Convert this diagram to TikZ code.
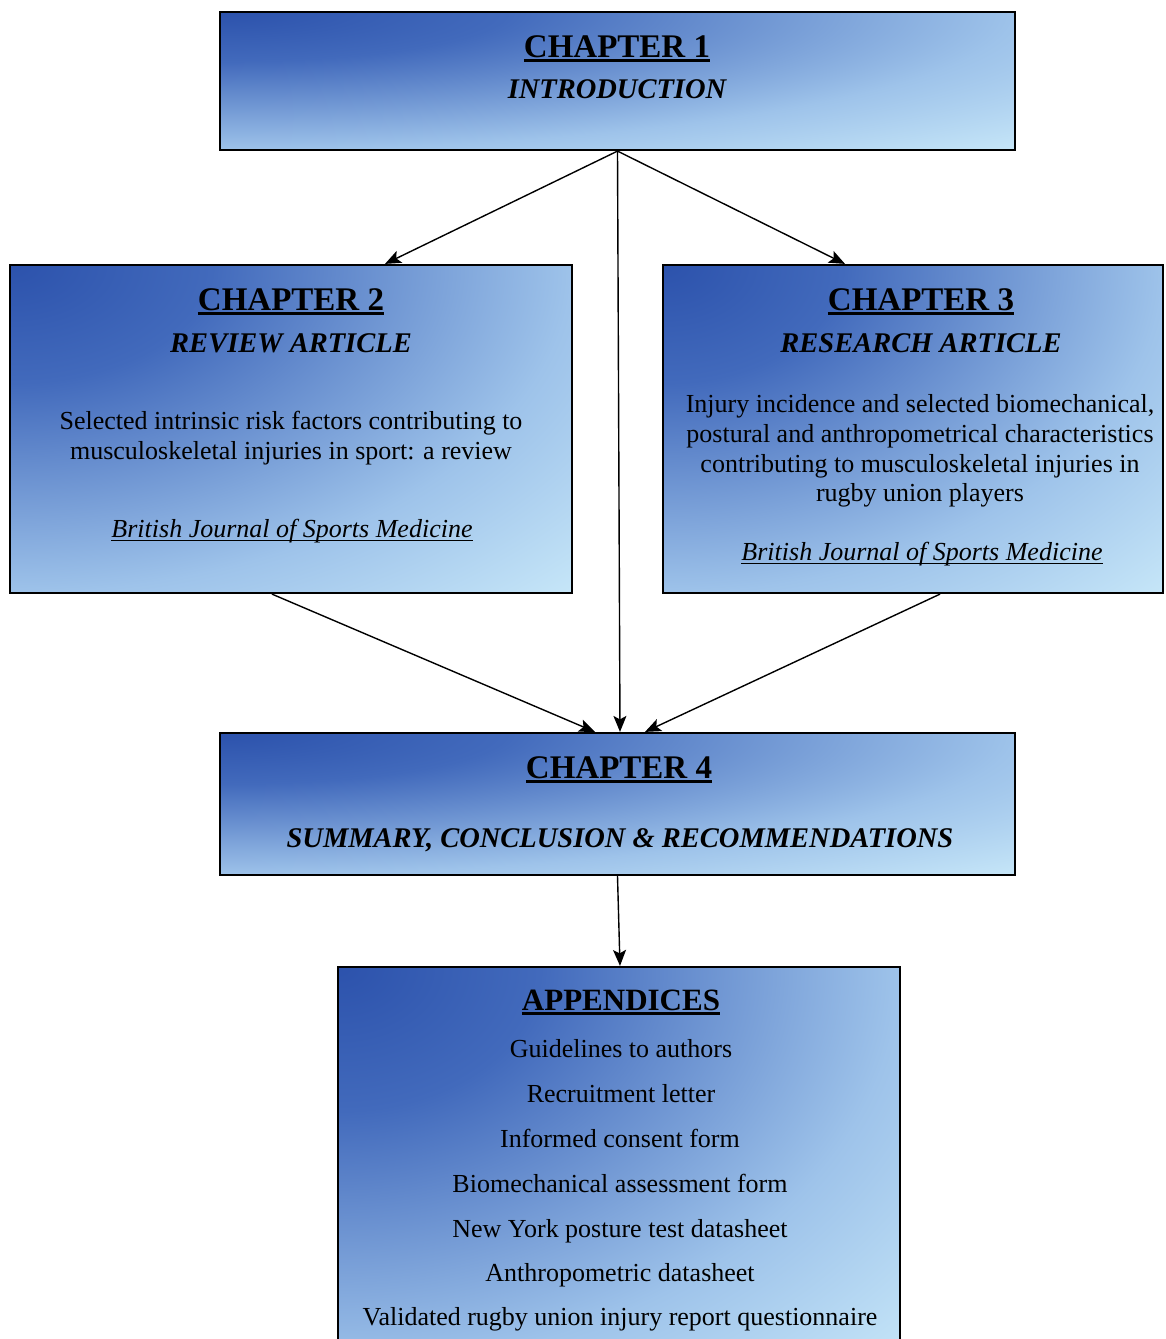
\documentclass[tikz,border=0pt]{standalone}
\usepackage{fontspec}
\setmainfont{Liberation Serif}
\usetikzlibrary{arrows.meta,calc}
\definecolor{boxdark}{RGB}{44,82,172}
\definecolor{boxdeep}{RGB}{66,106,188}
\definecolor{boxmid}{RGB}{158,195,234}
\definecolor{boxlight}{RGB}{198,230,248}
\pgfdeclareradialshading{cornerblue}{\pgfpointorigin}{color(0bp)=(boxdark); color(9bp)=(boxdeep); color(25bp)=(boxmid); color(35.36bp)=(boxlight); color(50bp)=(boxlight)}
\newcommand\thickul[1]{\setbox0\hbox{#1}\rlap{\rule[-4.5pt]{\wd0}{2.4pt}}\box0}
\newcommand\thinul[1]{\setbox0\hbox{#1}\rlap{\rule[-4pt]{\wd0}{1.2pt}}\box0}
\begin{document}
\begin{tikzpicture}[x=1pt,y=-1pt,
  chbox/.style={draw=black, line width=2.2pt, inner sep=0pt,
    path picture={\shade[shading=cornerblue]
      ($(path picture bounding box.north west)!-1!(path picture bounding box.south east)$)
      rectangle (path picture bounding box.south east);}},
  link/.style={line width=1.4pt, -{Stealth[length=16pt,width=13pt,inset=3.5pt]}},
  head/.style={anchor=base, inner sep=0pt, font=\fontsize{33}{36}\selectfont\bfseries},
  sub/.style={anchor=base, inner sep=0pt, font=\fontsize{28.5}{32}\selectfont\bfseries\itshape},
  body/.style={anchor=base, inner sep=0pt, font=\fontsize{26}{30}\selectfont},
  journal/.style={anchor=base, inner sep=0pt, font=\fontsize{26}{30}\selectfont\itshape},
  ]
\clip (0,0) rectangle (1166,1339);
\fill[white] (0,0) rectangle (1166,1339);

% boxes
\node[chbox, minimum width=795pt, minimum height=138pt] (ch1) at (617.5,81) {};
\node[chbox, minimum width=562pt, minimum height=328pt] (ch2) at (291,429) {};
\node[chbox, minimum width=500pt, minimum height=328pt] (ch3) at (913,429) {};
\node[chbox, minimum width=795pt, minimum height=142pt] (ch4) at (617.5,804) {};
\node[chbox, minimum width=562pt, minimum height=400pt] (app) at (619,1167) {};

% chapter 1
\node[head] (h1) at (617,57) {\thickul{CHAPTER 1}};
\node[sub] (s1) at (617,98) {INTRODUCTION};

% chapter 2
\node[head] (h2) at (291,310) {\thickul{CHAPTER 2}};
\node[sub] (s2) at (291,352) {REVIEW ARTICLE};
\node[body] (b2a) at (291,429) {Selected intrinsic risk factors contributing to};
\node[body] (b2b) at (291,459) {musculoskeletal injuries in sport: a review};
\node[journal] (j2) at (292,537) {\thinul{British Journal of Sports Medicine}};

% chapter 3
\node[head] (h3) at (921,310) {\thickul{CHAPTER 3}};
\node[sub] (s3) at (921,352) {RESEARCH ARTICLE};
\node[body] (b3a) at (920,412) {Injury incidence and selected biomechanical,};
\node[body] (b3b) at (920,442) {postural and anthropometrical characteristics};
\node[body] (b3c) at (920,472) {contributing to musculoskeletal injuries in};
\node[body] (b3d) at (920,501) {rugby union players};
\node[journal] (j3) at (922,560) {\thinul{British Journal of Sports Medicine}};

% chapter 4
\node[head] (h4) at (619,778) {\thickul{CHAPTER 4}};
\node[sub] (s4) at (620,847) {SUMMARY, CONCLUSION \& RECOMMENDATIONS};

% appendices
\node[head, font=\fontsize{31}{34}\selectfont\bfseries] (ha) at (621,1010) {\thickul{APPENDICES}};
\node[body] (a1) at (621,1057) {Guidelines to authors};
\node[body] (a2) at (621,1102) {Recruitment letter};
\node[body] (a3) at (620,1147) {Informed consent form};
\node[body] (a4) at (620,1192) {Biomechanical assessment form};
\node[body] (a5) at (620,1237) {New York posture test datasheet};
\node[body] (a6) at (620,1281) {Anthropometric datasheet};
\node[body] (a7) at (620,1325) {Validated rugby union injury report questionnaire};

% connectors
\draw[link] (ch1.south) -- ([xshift=94pt]ch2.north);
\draw[link] (ch1.south) -- ([xshift=-68pt]ch3.north);
\draw[link] (ch1.south) -- ([xshift=2.5pt]ch4.north);
\draw[link] ([xshift=-19pt]ch2.south) -- ([xshift=-22.5pt]ch4.north);
\draw[link] ([xshift=27pt]ch3.south) -- ([xshift=27.5pt]ch4.north);
\draw[link] (ch4.south) -- ([xshift=1pt]app.north);
\end{tikzpicture}
\end{document}
